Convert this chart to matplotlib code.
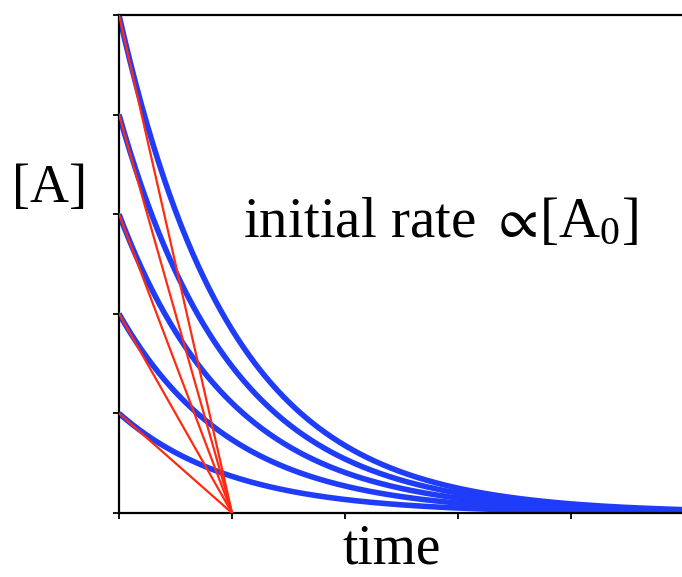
import numpy as np
import matplotlib
matplotlib.use("Agg")
import matplotlib.pyplot as plt

# First-order decay A(t) = A0 * exp(-k t) for several starting concentrations
initial_conc = [1, 2, 3, 4, 5]
rate_const = 1.0
t_max = 4.98
x_ticks = [0, 1, 2, 3, 4]
y_ticks = [0, 1, 2, 3, 4, 5]

plt.rcParams["font.family"] = ["Liberation Serif", "DejaVu Serif"]
plt.rcParams["mathtext.fontset"] = "custom"
plt.rcParams["mathtext.rm"] = "Liberation Serif"
plt.rcParams["mathtext.it"] = "Liberation Serif"
plt.rcParams["mathtext.fallback"] = "stix"

fig = plt.figure(figsize=(6.82, 5.77), dpi=100)
ax = fig.add_axes([119 / 682, 1 - 513 / 577, 1 - 119 / 682, (513 - 15) / 577])

t = np.linspace(0, t_max, 400)
for a0 in initial_conc:
    ax.plot(t, a0 * np.exp(-rate_const * t), color="#1f3cf8", lw=4.0,
            solid_capstyle="butt", zorder=2)

# Initial-rate tangents: slope -k*A0, reaching zero at t = 1/k
for a0 in initial_conc:
    t_end = a0 / (rate_const * a0)
    ax.plot([0, t_end], [a0, 0], color="#ff2a10", lw=1.6, zorder=3)

ax.set_xlim(0, t_max)
ax.set_ylim(0, 5)
ax.set_xticks(x_ticks)
ax.set_yticks(y_ticks)
ax.set_xticklabels([])
ax.set_yticklabels([])
ax.tick_params(direction="out", length=4, width=1.3, color="black")
for side in ["left", "bottom", "top"]:
    ax.spines[side].set_linewidth(1.6)
    ax.spines[side].set_color("black")
    ax.spines[side].set_clip_on(False)
ax.spines["right"].set_visible(False)

fig.text(50 / 682, 1 - 202 / 577, "[A]", fontsize=39, ha="center", va="baseline")
fig.text(392 / 682, 0.002, "time", fontsize=40, ha="center", va="bottom")
fig.text(440 / 682, 1 - 237 / 577, r"initial rate $\propto\!$[A$_0$]",
         fontsize=41, ha="center", va="baseline")

fig.savefig("out.png", dpi=100)
